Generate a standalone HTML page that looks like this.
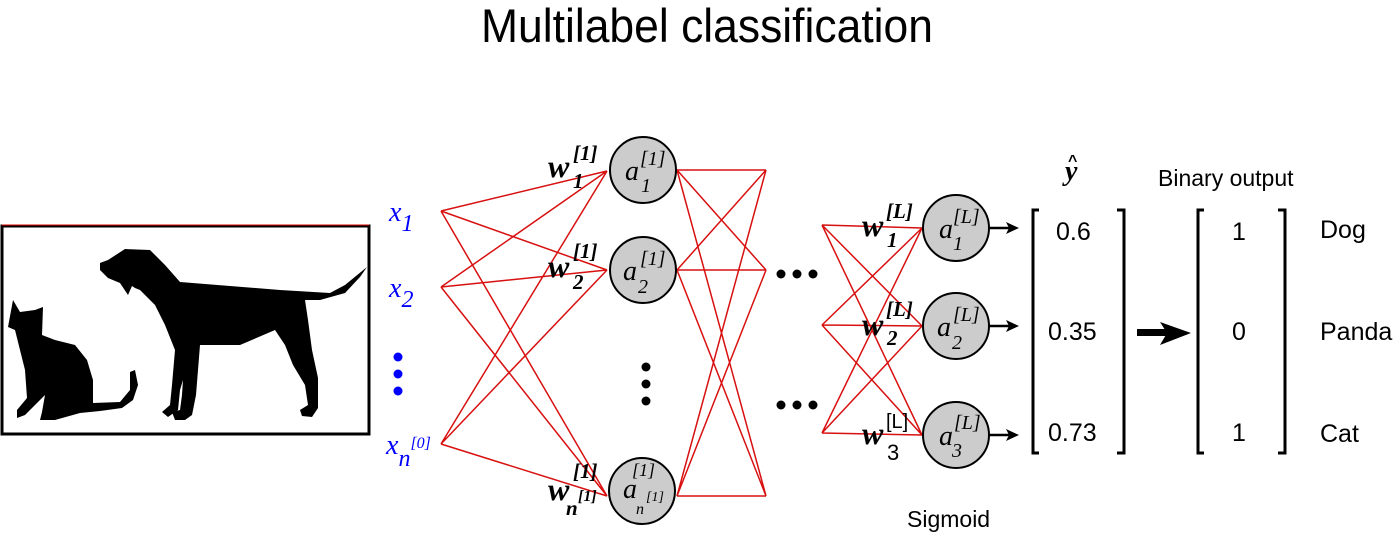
<!DOCTYPE html>
<html><head><meta charset="utf-8"><style>
html,body{margin:0;padding:0;background:#fff;width:1400px;height:539px;overflow:hidden}
svg{display:block}
.t{font-family:"Liberation Sans",sans-serif}
.s{font-family:"Liberation Serif","DejaVu Serif",serif;font-style:italic}
</style></head><body>
<svg width="1400" height="539" viewBox="0 0 1400 539" xmlns="http://www.w3.org/2000/svg">
<text x="481" y="42" class="t" font-size="47" textLength="452" lengthAdjust="spacingAndGlyphs">Multilabel classification</text>

<!-- image box -->
<rect x="2" y="226" width="367" height="208" fill="#fff" stroke="#000" stroke-width="3"/>
<line x1="2" y1="225" x2="369" y2="225" stroke="#d00" stroke-width="1"/>
<path d="M100,263 L108,260 L125,249 L150,250 L165,265 L180,282 L230,286 L280,290 L330,293 L345,285 L367,267 L360,277 L345,293 L320,300 L305,300 L308,320 L312,350 L318,378 L318,408 L312,417 L302,416 L300,410 L308,405 L305,385 L293,365 L285,345 L275,330 L240,345 L200,345 L198,370 L196,395 L192,415 L185,420 L175,420 L172,412 L180,410 L182,395 L183,380 L180,390 L178,410 L168,417 L162,412 L170,405 L172,385 L175,350 L165,325 L155,305 L140,290 L135,288 L132,286 L128,295 L120,283 L108,278 L100,270 Z" fill="#000"/>
<path d="M13,300 L20,312 L35,310 L43,307 L42,335 L55,340 L75,345 L87,360 L93,380 L93,403 L120,402 L130,390 L130,372 L135,370 L138,385 L133,400 L122,408 L100,411 L80,413 L55,420 L40,420 L42,412 L45,395 L35,405 L25,415 L17,418 L17,410 L27,398 L25,370 L15,330 L8,327 Z" fill="#000"/>

<!-- inputs -->
<g fill="#00f" class="s" font-size="28">
<text x="389" y="221">x<tspan font-size="24" dy="10">1</tspan></text>
<text x="389" y="297">x<tspan font-size="24" dy="10">2</tspan></text>
<text x="386" y="454">x<tspan font-size="24" dy="12">n</tspan><tspan font-size="16" dy="-18">[0]</tspan></text>
</g>
<g fill="#00f"><circle cx="398" cy="357" r="4.5"/><circle cx="398" cy="374" r="4.5"/><circle cx="398" cy="391" r="4.5"/></g>

<!-- edges -->
<g stroke="#d81010" stroke-width="1.5" fill="none">
<path d="M441,211 L607,171 M441,211 L607,270 M441,211 L607,496 M441,287 L607,171 M441,287 L607,270 M441,287 L607,496 M441,444 L607,171 M441,444 L607,270 M441,444 L607,496"/>
<path d="M677,170 L766,170 M677,170 L766,270 M677,170 L766,496 M677,270 L766,170 M677,270 L766,270 M677,270 L766,496 M677,496 L766,170 M677,496 L766,270 M677,496 L766,496"/>
<path d="M822,225 L922,228 M822,225 L922,326 M822,225 L922,435 M822,325 L922,228 M822,325 L922,326 M822,325 L922,435 M822,433 L922,228 M822,433 L922,326 M822,433 L922,435"/>
</g>

<!-- nodes -->
<g fill="#ccc" stroke="#000" stroke-width="2">
<circle cx="643" cy="170" r="33"/><circle cx="643" cy="270" r="33"/><circle cx="642" cy="491" r="33"/>
<circle cx="956" cy="228" r="33"/><circle cx="956" cy="326" r="33"/><circle cx="956" cy="435" r="33"/>
</g>
<g class="s" fill="#000">
<text x="625" y="180" font-size="28">a</text><text x="640" y="165" font-size="20">[1]</text><text x="641" y="192" font-size="20">1</text>
<text x="623" y="280" font-size="28">a</text><text x="640" y="265" font-size="20">[1]</text><text x="638" y="293" font-size="20">2</text>
<text x="632" y="476" font-size="18">[1]</text><text x="623" y="498" font-size="28">a</text><text x="646" y="501" font-size="14">[1]</text><text x="636" y="514" font-size="16">n</text>
<text x="939" y="238" font-size="28">a</text><text x="953" y="223" font-size="20">[L]</text><text x="953" y="250" font-size="20">1</text>
<text x="937" y="336" font-size="28">a</text><text x="953" y="321" font-size="20">[L]</text><text x="952" y="349" font-size="20">2</text>
<text x="939" y="445" font-size="28">a</text><text x="954" y="429" font-size="20">[L]</text><text x="952" y="457" font-size="20">3</text>
</g>
<g class="s" fill="#000" font-weight="bold">
<text x="548" y="177" font-size="32">w</text><text x="573" y="160" font-size="21">[1]</text><text x="573" y="188" font-size="21">1</text>
<text x="548" y="277" font-size="32">w</text><text x="573" y="258" font-size="21">[1]</text><text x="573" y="289" font-size="21">2</text>
<text x="548" y="500" font-size="32">w</text><text x="573" y="478" font-size="21">[1]</text><text x="566" y="515" font-size="21">n</text><text x="578" y="501" font-size="16">[1]</text>
<text x="862" y="236" font-size="32">w</text><text x="886" y="218" font-size="21">[L]</text><text x="887" y="247" font-size="21">1</text>
<text x="862" y="335" font-size="32">w</text><text x="886" y="316" font-size="21">[L]</text><text x="887" y="345" font-size="21">2</text>
<text x="862" y="444" font-size="32">w</text>
</g>
<text x="886" y="428" class="t" font-size="20">[L]</text>
<text x="887" y="460" class="t" font-size="22">3</text>

<!-- dots -->
<g fill="#000">
<circle cx="646" cy="367" r="4.5"/><circle cx="646" cy="384" r="4.5"/><circle cx="646" cy="401" r="4.5"/>
<circle cx="781" cy="274" r="4.5"/><circle cx="797" cy="274" r="4.5"/><circle cx="813" cy="274" r="4.5"/>
<circle cx="781" cy="405" r="4.5"/><circle cx="797" cy="405" r="4.5"/><circle cx="813" cy="405" r="4.5"/>
</g>

<!-- output arrows -->
<g stroke="#000" stroke-width="2.5"><line x1="989" y1="228" x2="1010" y2="228"/><line x1="989" y1="326" x2="1010" y2="326"/><line x1="989" y1="435" x2="1010" y2="435"/></g>
<g fill="#000"><path d="M1019,228 L1006,222 L1009,228 L1006,234Z"/><path d="M1019,326 L1006,320 L1009,326 L1006,332Z"/><path d="M1019,435 L1006,429 L1009,435 L1006,441Z"/></g>

<!-- brackets -->
<g stroke="#000" stroke-width="3" fill="none">
<path d="M1039,210 L1033,210 L1033,453 L1039,453"/>
<path d="M1117,210 L1124,210 L1124,453 L1117,453"/>
<path d="M1204,210 L1198,210 L1198,453 L1204,453"/>
<path d="M1278,210 L1285,210 L1285,453 L1278,453"/>
</g>
<g class="t" font-size="25" fill="#000">
<text x="1056" y="240">0.6</text><text x="1048" y="340">0.35</text><text x="1048" y="441">0.73</text>
<text x="1232" y="240">1</text><text x="1232" y="340">0</text><text x="1232" y="441">1</text>
<text x="1320" y="238">Dog</text><text x="1320" y="340">Panda</text><text x="1320" y="442">Cat</text>
<text x="1158" y="186" font-size="23">Binary output</text>
<text x="907" y="527" font-size="23">Sigmoid</text>
</g>
<text x="1065" y="180" class="s" font-size="28" font-weight="bold">y</text>
<text x="1068" y="166" class="t" font-size="16" font-weight="bold">^</text>

<!-- big arrow -->
<rect x="1137" y="329" width="30" height="7" fill="#000"/>
<path d="M1191,333 L1160,322 L1167,333 L1160,345Z" fill="#000"/>
</svg>
</body></html>
